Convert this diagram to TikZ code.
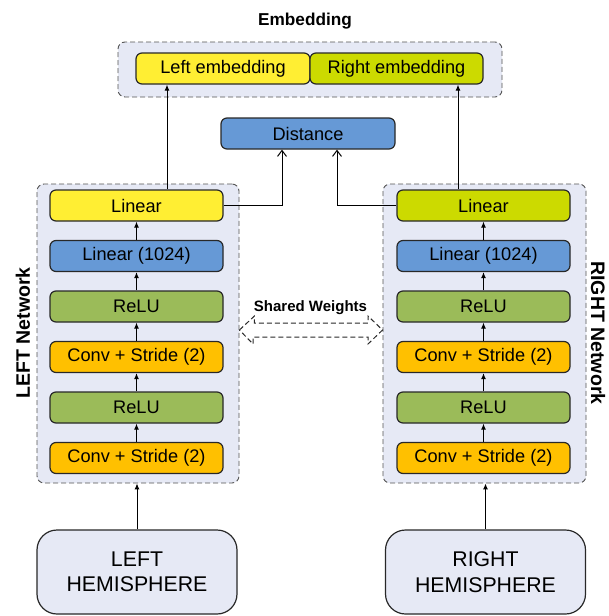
\documentclass[tikz,border=0pt]{standalone}
\usepackage{fontspec}
\setmainfont{Liberation Sans}
\usepackage{xcolor}
\usepackage{tikz}
\usetikzlibrary{arrows.meta}
\definecolor{embyellow}{RGB}{255,238,51}
\definecolor{embgreen}{RGB}{204,218,0}
\definecolor{linblue}{RGB}{102,153,214}
\definecolor{reluolive}{RGB}{155,187,89}
\definecolor{convorange}{RGB}{255,192,0}
\definecolor{groupfill}{RGB}{230,233,245}
\definecolor{edgegray}{RGB}{40,40,40}

\begin{document}
\begin{tikzpicture}[x=1pt, y=-1pt,
        block/.style={rectangle, draw=edgegray, line width=1.2pt, minimum width=173pt, minimum height=31pt,
                     rounded corners=6pt, text centered, inner sep=0pt, font=\fontsize{18.2}{21}\selectfont},
        group/.style={rectangle, draw=edgegray!80, fill=groupfill, line width=0.9pt, dash pattern=on 5pt off 3pt,
                     rounded corners=7pt, inner sep=0pt},
        hemi/.style={rectangle, draw=edgegray, fill=groupfill, line width=1.2pt, minimum width=200pt, minimum height=84pt,
                    rounded corners=20pt, align=center, font=\fontsize{21.3}{25.5}\selectfont},
        arrow/.style={-{Latex[length=6pt, width=5pt]}, line width=1pt, color=black},
        openarrow/.style={-{Straight Barb[length=6pt, width=9pt]}, line width=1pt, color=black}
    ]
        \useasboundingbox (0,0) rectangle (608,616);

        % Draw group backgrounds
        \node[group, minimum width=384pt, minimum height=55pt] (embgroup) at (310,69.5) {};
        \node[group, minimum width=202pt, minimum height=299pt] (lnet) at (138,333.5) {};
        \node[group, minimum width=203pt, minimum height=299pt] (rnet) at (484.5,333.5) {};

        % Embedding title and boxes
        \node[font=\fontsize{17.2}{20}\selectfont\bfseries] (embtitle) at (305,21) {Embedding};
        \node[block, minimum width=174pt, fill=embyellow] (lemb) at (223,68.5) {Left embedding};
        \node[block, fill=embgreen] (remb) at (396.5,68.5) {Right embedding};
        \node[block, minimum width=174pt, fill=linblue] (dist) at (308,133.5) {Distance};

        % Add layers of the left network
        \node[block, fill=embyellow] (llin) at (136.5,205.5) {Linear};
        \node[block, fill=linblue] (llinb) at (136.5,256) {Linear (1024)};
        \node[block, fill=reluolive] (lrelub) at (136.5,306.5) {ReLU};
        \node[block, fill=convorange] (lconvb) at (136.5,357) {Conv + Stride (2)};
        \node[block, fill=reluolive] (lrelua) at (136.5,407.5) {ReLU};
        \node[block, fill=convorange] (lconva) at (136.5,458) {Conv + Stride (2)};

        % Add layers of the right network
        \node[block, fill=embgreen] (rlin) at (483.5,205.5) {Linear};
        \node[block, fill=linblue] (rlinb) at (483.5,256) {Linear (1024)};
        \node[block, fill=reluolive] (rrelub) at (483.5,306.5) {ReLU};
        \node[block, fill=convorange] (rconvb) at (483.5,357) {Conv + Stride (2)};
        \node[block, fill=reluolive] (rrelua) at (483.5,407.5) {ReLU};
        \node[block, fill=convorange] (rconva) at (483.5,458) {Conv + Stride (2)};

        % Inputs
        \node[hemi] (lhem) at (137,572) {LEFT\\HEMISPHERE};
        \node[hemi] (rhem) at (485.5,572) {RIGHT\\HEMISPHERE};

        % Add flow arrows inside the networks
        \foreach \side in {l, r} {
            \draw[arrow] (\side conva) -- (\side relua);
            \draw[arrow] (\side relua) -- (\side convb);
            \draw[arrow] (\side convb) -- (\side relub);
            \draw[arrow] (\side relub) -- (\side linb);
            \draw[arrow] (\side linb) -- (\side lin);
            \draw[arrow] (\side hem.north) -- (\side hem.north |- \side net.south);
        }

        % Add arrows to embedding and distance
        \draw[arrow] ([xshift=30.5pt]llin.north) -- ([xshift=30.5pt]llin.north |- lemb.south);
        \draw[arrow] ([xshift=-25.5pt]rlin.north) -- ([xshift=-25.5pt]rlin.north |- remb.south);
        \draw[openarrow] (llin.east) -| ([xshift=-26pt]dist.south);
        \draw[openarrow] (rlin.west) -| ([xshift=29pt]dist.south);

        % Shared weights between the networks
        \draw[line width=1pt, dash pattern=on 5pt off 3pt, color=edgegray]
            (lnet.east |- 0,330) -- ++(15,-14) -- ++(0,7) -- (368,323) -- ++(0,-7) -- (rnet.west |- 0,330)
            -- (368,344) -- ++(0,-7) -- (253,337) -- ++(0,7) -- cycle;
        \node[font=\fontsize{15}{18}\selectfont\bfseries] (shared) at (310.5,308) {Shared Weights};

        % Add side labels
        \node[rotate=90, font=\fontsize{19.5}{23}\selectfont\bfseries] (lname) at (23,333) {LEFT Network};
        \node[rotate=-90, font=\fontsize{19.5}{23}\selectfont\bfseries] (rname) at (598,333) {RIGHT Network};

    \end{tikzpicture}
\end{document}
